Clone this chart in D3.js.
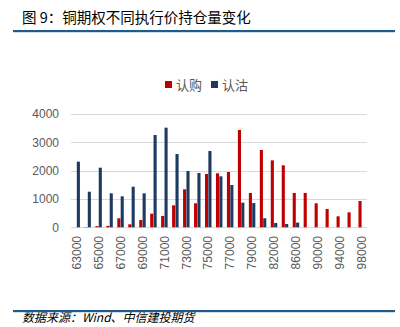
<!DOCTYPE html>
<html><head><meta charset="utf-8">
<script src="https://cdn.jsdelivr.net/npm/d3@7"></script>
<style>body{margin:0;background:#fff;}svg{display:block;}</style>
</head><body>
<script>
const categories = ["63000","64000","65000","66000","67000","68000","69000","70000","71000","72000","73000","74000","75000","76000","77000","78000","79000","80000","82000","84000","86000","88000","90000","92000","94000","96000","98000"];
const callOI = [0,10,40,50,318,106,258,480,400,776,1341,847,1882,1906,1953,3435,1212,2729,2364,2188,1212,1212,847,647,388,529,929];
const putOI  = [2318,1257,2104,1200,1094,1433,1200,3258,3517,2587,1988,1917,2693,1800,1494,870,857,318,153,117,165,0,0,0,0,0,0];
const yTicks = [0,1000,2000,3000,4000];
const seriesNames = ["认购","认沽"];
const colors = ["#c00000","#1f3a60"];

const W=400,H=327;
const svg=d3.select("body").append("svg").attr("width",W).attr("height",H);
const cjk="'Noto Sans CJK SC','Noto Sans',sans-serif";

svg.append("text").attr("x",22).attr("y",23).attr("font-family",cjk).attr("font-size",14.5).attr("fill","#000").text("图 9：铜期权不同执行价持仓量变化");
svg.append("rect").attr("x",13).attr("y",30).attr("width",382).attr("height",2.2).attr("fill","#1f5c8c");
svg.append("rect").attr("x",13).attr("y",310).attr("width",382).attr("height",2.2).attr("fill","#1f5c8c");
svg.append("text").attr("x",22).attr("y",322).attr("font-family",cjk).attr("font-style","italic").attr("font-size",12).attr("fill","#000").text("数据来源：Wind、中信建投期货");

const x=d3.scaleBand().domain(categories).range([71.2,367.2]).paddingInner(0.36).paddingOuter(0.18);
const xs=d3.scaleBand().domain(seriesNames).range([0,x.bandwidth()]).padding(0.08);
const y=d3.scaleLinear().domain([0,4000]).range([227.3,114]);

const g=svg.append("g");
g.selectAll("line.grid").data(yTicks).enter().append("line")
 .attr("x1",71).attr("x2",367).attr("y1",d=>Math.round(y(d))+0.5).attr("y2",d=>Math.round(y(d))+0.5)
 .attr("stroke","#d9d9d9").attr("stroke-width",1);

const yAxis=d3.axisLeft(y).tickValues(yTicks).tickFormat(d3.format("d")).tickSize(0).tickPadding(0);
const ya=svg.append("g").attr("transform","translate(59,0)").call(yAxis);
ya.select(".domain").remove();
ya.selectAll("text").attr("font-family","'Liberation Sans',Arial,sans-serif").attr("font-size",12).attr("fill","#595959");

const data=[callOI,putOI];
data.forEach((arr,si)=>{
  g.selectAll("rect.s"+si).data(arr).enter().append("rect")
   .attr("x",(d,i)=>x(categories[i])+xs(seriesNames[si]))
   .attr("width",xs.bandwidth())
   .attr("y",d=>y(d)).attr("height",d=>y(0)-y(d))
   .attr("fill",colors[si]);
});

const xAxis=d3.axisBottom(x).tickValues(categories.filter((c,i)=>i%2===0)).tickSize(0).tickPadding(0);
const xa=svg.append("g").attr("transform","translate(0,232)").call(xAxis);
xa.select(".domain").remove();
xa.selectAll("text").attr("font-family","'Liberation Sans',Arial,sans-serif").attr("font-size",12).attr("fill","#595959")
  .attr("transform","rotate(-90)").attr("text-anchor","end").attr("dy","0.35em").attr("x",-4).attr("y",0);

const leg=svg.append("g");
const lx=[165,211];
seriesNames.forEach((n,i)=>{
  leg.append("rect").attr("x",lx[i]).attr("y",81).attr("width",7).attr("height",7).attr("fill",colors[i]);
  leg.append("text").attr("x",lx[i]+11).attr("y",89.5).attr("font-family",cjk).attr("font-size",13).attr("fill","#595959").text(n);
});
</script>
</body></html>
